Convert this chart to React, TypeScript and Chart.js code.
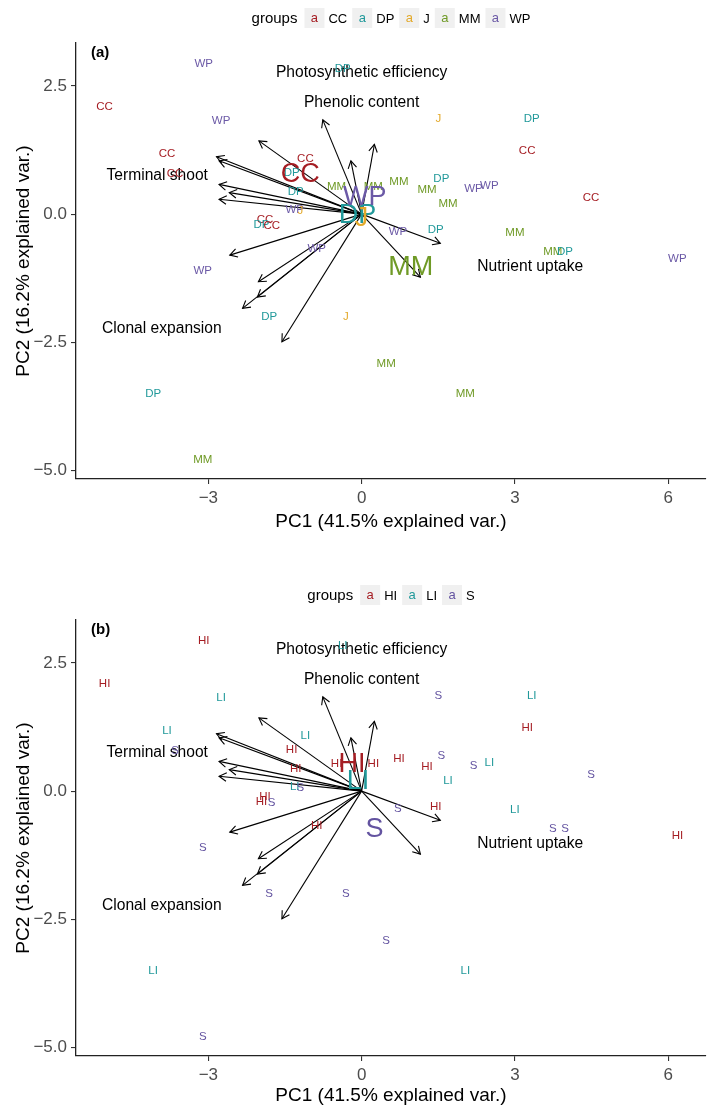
import React, { useEffect, useRef } from "react";
import { Chart, registerables } from "chart.js";

Chart.register(...registerables);

const FONT = "'Liberation Sans', Arial, Helvetica, sans-serif";

// PCA sample scores (PC1, PC2)
const ptX = [-3.09, -5.03, -2.75, -3.81, -3.65, -0.37, -1.10, -1.37, -1.29, -0.49, 0.23, -1.31, -1.20, -1.89, -1.96, -1.76, -0.88, 1.50, 3.33, 3.24, 0.73, 1.56, 1.28, 2.19, 2.50, 1.69, 4.49, 0.71, 1.45, 3.00, 3.74, 3.98, 6.18, -0.31, 0.48, 2.03, -3.11, -1.81, -4.08, -3.11];
const ptY = [2.95, 2.12, 1.84, 1.20, 0.80, 2.85, 1.10, 0.82, 0.45, 0.56, 0.56, 0.10, 0.08, -0.10, -0.19, -0.21, -0.66, 1.88, 1.88, 1.26, 0.65, 0.70, 0.50, 0.52, 0.58, 0.21, 0.34, -0.32, -0.28, -0.35, -0.71, -0.72, -0.85, -1.98, -2.91, -3.48, -1.09, -1.99, -3.49, -4.78];
const speciesGroup = ["WP", "CC", "WP", "CC", "CC", "DP", "CC", "DP", "DP", "MM", "MM", "WP", "J", "CC", "DP", "CC", "WP", "J", "DP", "CC", "MM", "DP", "MM", "WP", "WP", "MM", "CC", "WP", "DP", "MM", "MM", "DP", "WP", "J", "MM", "MM", "WP", "DP", "DP", "MM"];
const habitatGroup = ["HI", "HI", "LI", "LI", "S", "LI", "LI", "HI", "HI", "HI", "HI", "LI", "S", "HI", "HI", "S", "HI", "S", "LI", "HI", "HI", "S", "HI", "S", "LI", "LI", "S", "S", "HI", "LI", "S", "S", "HI", "S", "S", "LI", "S", "S", "LI", "S"];

// groups, colours and group centroids
const speciesNames = ["CC", "DP", "J", "MM", "WP"];
const speciesColors = ["#A51D23", "#21999A", "#E3A92A", "#6F9A26", "#6B59A6"];
const speciesCentX = [-1.20, -0.08, 0.0, 0.96, 0.06];
const speciesCentY = [0.82, 0.01, -0.05, -0.99, 0.37];

const habitatNames = ["HI", "LI", "S"];
const habitatColors = ["#A51D23", "#21999A", "#6353A0"];
const habitatCentX = [-0.19, -0.07, 0.25];
const habitatCentY = [0.57, 0.23, -0.70];

// variable loadings (arrow tips)
const arrowX = [-2.01, -2.84, -2.79, -2.79, -2.59, -2.79, -0.76, -0.21, 0.25, -2.58, -2.02, -2.04, -2.33, -1.56, 1.54, 1.15];
const arrowY = [1.43, 1.12, 1.04, 0.58, 0.42, 0.29, 1.84, 1.04, 1.36, -0.80, -1.32, -1.62, -1.84, -2.49, -0.57, -1.23];

// variable group labels
const varNames = ["Photosynthetic efficiency", "Phenolic content", "Terminal shoot", "Clonal expansion", "Nutrient uptake"];
const varX = [0.0, 0.0, -4.0, -3.91, 3.30];
const varY = [2.79, 2.20, 0.78, -2.21, -1.01];

const xTicks = [-3, 0, 3, 6];
const yTicks = [-5, -2.5, 0, 2.5];
const xMin = -5.59, xMax = 6.74, yMin = -5.17, yMax = 3.34;

const minus = (s: string) => s.replace("-", "\u2212");

function textAt(ctx: CanvasRenderingContext2D, t: string, x: number, y: number, size: number, color: string, bold = false, align: CanvasTextAlign = "center") {
  ctx.font = `${bold ? "bold " : ""}${size}px ${FONT}`;
  ctx.fillStyle = color;
  ctx.textAlign = align;
  ctx.textBaseline = "alphabetic";
  ctx.fillText(t, x, y + size * 0.358);
}

const biplotPlugin = {
  id: "biplot",
  afterDatasetsDraw(chart: any) {
    const ctx: CanvasRenderingContext2D = chart.ctx;
    const spec = chart.options.plugins.biplot;
    const xs = chart.scales.x, ys = chart.scales.y;
    ctx.save();
    // arrow heads
    chart.data.datasets.forEach((ds: any, i: number) => {
      if (ds.kind !== "arrow") return;
      const meta = chart.getDatasetMeta(i);
      const p0 = meta.data[0], p1 = meta.data[1];
      const ang = Math.atan2(p1.y - p0.y, p1.x - p0.x);
      const L = 8.5, a = Math.PI / 6;
      ctx.strokeStyle = "#000";
      ctx.lineWidth = 1.1;
      ctx.beginPath();
      ctx.moveTo(p1.x - L * Math.cos(ang - a), p1.y - L * Math.sin(ang - a));
      ctx.lineTo(p1.x, p1.y);
      ctx.lineTo(p1.x - L * Math.cos(ang + a), p1.y - L * Math.sin(ang + a));
      ctx.stroke();
    });
    // variable labels
    varNames.forEach((n, i) => {
      textAt(ctx, n, xs.getPixelForValue(varX[i]), ys.getPixelForValue(varY[i]), 15.6, "#000");
    });
    // point and centroid labels
    chart.data.datasets.forEach((ds: any, i: number) => {
      if (ds.kind !== "points" && ds.kind !== "centroid") return;
      const meta = chart.getDatasetMeta(i);
      meta.data.forEach((el: any, j: number) => {
        const g = ds.texts[j];
        const c = spec.colors[spec.groups.indexOf(g)];
        textAt(ctx, g, el.x, el.y, ds.size, c);
      });
    });
    // panel tag
    const ca = chart.chartArea;
    textAt(ctx, spec.tag, ca.left + 15, ca.top + 9, 15, "#000", true, "left");
    ctx.restore();
  },
  afterDraw(chart: any) {
    const ctx: CanvasRenderingContext2D = chart.ctx;
    const spec = chart.options.plugins.biplot;
    const ca = chart.chartArea;
    const cx = (ca.left + ca.right) / 2;
    const cy = ca.top - 25;
    ctx.save();
    ctx.font = `15px ${FONT}`;
    const tw = ctx.measureText("groups").width;
    ctx.font = `13px ${FONT}`;
    const lw = spec.groups.map((g: string) => ctx.measureText(g).width);
    const box = 20, gapTitle = 7, gapLab = 4, gapItem = 5;
    let total = tw + gapTitle;
    lw.forEach((w: number, i: number) => { total += box + gapLab + w + (i < lw.length - 1 ? gapItem : 0); });
    let x = cx - total / 2;
    textAt(ctx, "groups", x, cy, 15, "#000", false, "left");
    x += tw + gapTitle;
    spec.groups.forEach((g: string, i: number) => {
      ctx.fillStyle = "#F0F0F0";
      ctx.fillRect(x, cy - box / 2, box, box);
      textAt(ctx, "a", x + box / 2, cy - 1, 13, spec.colors[i]);
      x += box + gapLab;
      textAt(ctx, g, x, cy, 13, "#000", false, "left");
      x += lw[i] + gapItem;
    });
    ctx.restore();
  },
};

type Spec = {
  tag: string;
  groups: string[];
  colors: string[];
  pointGroup: string[];
  centX: number[];
  centY: number[];
  top: number;
  xAxisH: number;
};

function buildConfig(spec: Spec): any {
  const datasets: any[] = [];
  datasets.push({
    kind: "points",
    label: "samples",
    texts: spec.pointGroup,
    size: 11.5,
    data: ptX.map((x, i) => ({ x, y: ptY[i] })),
    pointRadius: 0,
    showLine: false,
  });
  datasets.push({
    kind: "centroid",
    label: "centroids",
    texts: spec.groups,
    size: 27,
    data: spec.centX.map((x, i) => ({ x, y: spec.centY[i] })),
    pointRadius: 0,
    showLine: false,
  });
  arrowX.forEach((x, i) => {
    datasets.push({
      kind: "arrow",
      label: "var" + i,
      data: [{ x: 0, y: 0 }, { x, y: arrowY[i] }],
      showLine: true,
      borderColor: "#000",
      borderWidth: 1.1,
      pointRadius: 0,
      fill: false,
    });
  });
  return {
    type: "scatter",
    data: { datasets },
    plugins: [biplotPlugin],
    options: {
      animation: false,
      responsive: false,
      maintainAspectRatio: false,
      events: [],
      layout: { padding: { top: spec.top, left: 0, right: 3, bottom: 0 } },
      plugins: {
        legend: { display: false },
        tooltip: { enabled: false },
        biplot: spec,
      },
      scales: {
        x: {
          type: "linear",
          position: "bottom",
          min: xMin,
          max: xMax,
          afterBuildTicks: (s: any) => { s.ticks = xTicks.map((v) => ({ value: v })); },
          afterFit: (s: any) => { s.height = spec.xAxisH; },
          grid: { drawOnChartArea: false, drawTicks: true, tickLength: 5, color: "#333", lineWidth: 1.1 },
          border: { display: true, color: "#222", width: 1.3 },
          ticks: {
            color: "#4D4D4D",
            font: { family: FONT, size: 17 },
            padding: 4,
            maxRotation: 0,
            autoSkip: false,
            callback: (v: number) => minus(String(v)),
          },
          title: {
            display: true,
            text: "PC1 (41.5% explained var.)",
            color: "#000",
            font: { family: FONT, size: 19, lineHeight: 1 },
            padding: { top: 0, bottom: 0 },
          },
        },
        y: {
          type: "linear",
          position: "left",
          min: yMin,
          max: yMax,
          afterBuildTicks: (s: any) => { s.ticks = yTicks.map((v) => ({ value: v })); },
          afterFit: (s: any) => { s.width = 76; },
          grid: { drawOnChartArea: false, drawTicks: true, tickLength: 5, color: "#333", lineWidth: 1.1 },
          border: { display: true, color: "#222", width: 1.3 },
          ticks: {
            color: "#4D4D4D",
            font: { family: FONT, size: 17 },
            padding: 4,
            autoSkip: false,
            callback: (v: number) => minus(Number(v).toFixed(1)),
          },
          title: {
            display: true,
            text: "PC2 (16.2% explained var.)",
            color: "#000",
            font: { family: FONT, size: 19, lineHeight: 1 },
            padding: { top: 14, bottom: 0 },
          },
        },
      },
    },
  };
}

const specA: Spec = {
  tag: "(a)",
  groups: speciesNames,
  colors: speciesColors,
  pointGroup: speciesGroup,
  centX: speciesCentX,
  centY: speciesCentY,
  top: 43,
  xAxisH: 52,
};

const specB: Spec = {
  tag: "(b)",
  groups: habitatNames,
  colors: habitatColors,
  pointGroup: habitatGroup,
  centX: habitatCentX,
  centY: habitatCentY,
  top: 89,
  xAxisH: 49,
};

export default function App() {
  const refA = useRef<HTMLCanvasElement>(null);
  const refB = useRef<HTMLCanvasElement>(null);
  useEffect(() => {
    const a = new Chart(refA.current as HTMLCanvasElement, buildConfig(specA));
    const b = new Chart(refB.current as HTMLCanvasElement, buildConfig(specB));
    return () => {
      a.destroy();
      b.destroy();
    };
  }, []);
  return (
    <div style={{ position: "absolute", left: 0, top: 0, width: 709, height: 1105, overflow: "hidden", background: "#fff" }}>
      <canvas ref={refA} width={709} height={531} style={{ position: "absolute", left: 0, top: 0, width: 709, height: 531 }} />
      <canvas ref={refB} width={709} height={574} style={{ position: "absolute", left: 0, top: 531, width: 709, height: 574 }} />
    </div>
  );
}
